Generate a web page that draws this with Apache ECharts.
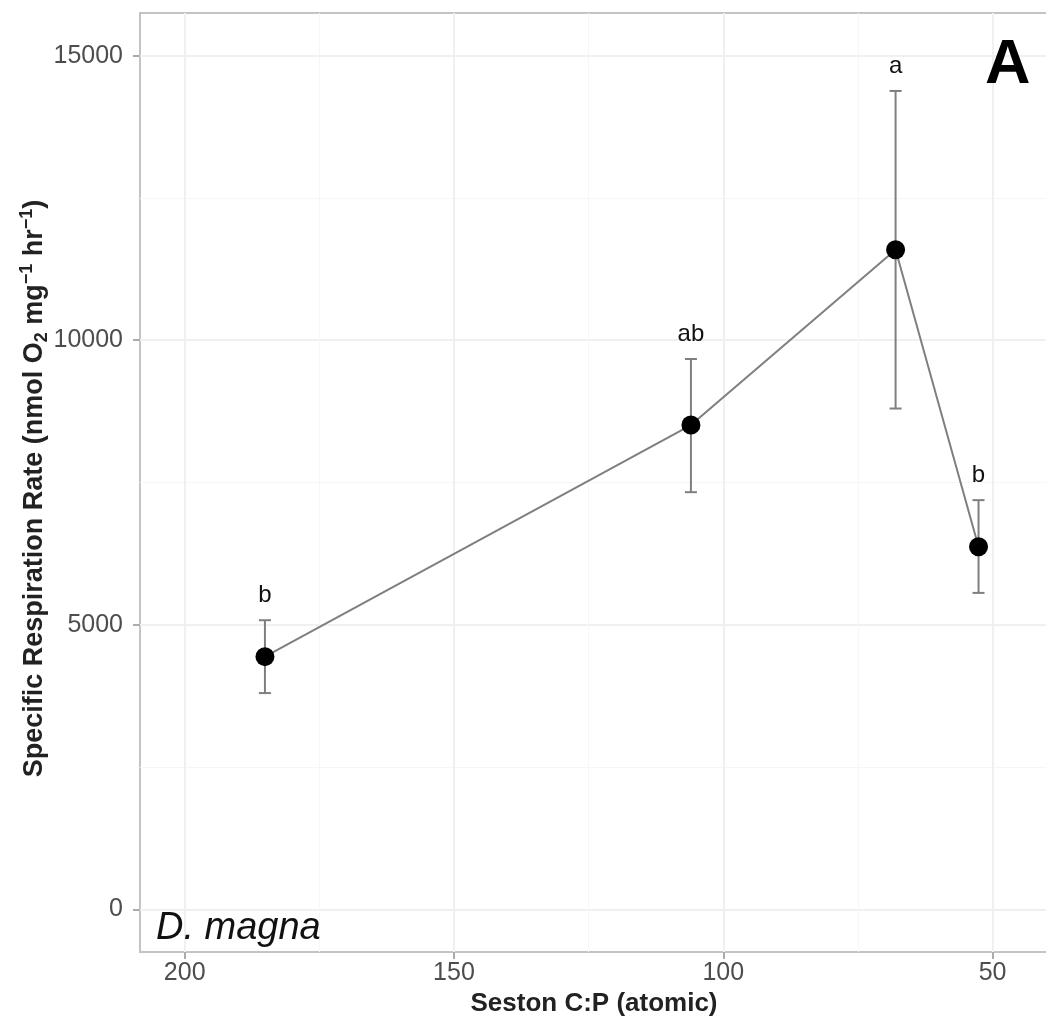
<!DOCTYPE html>
<html>
<head>
<meta charset="utf-8">
<title>Specific respiration rate vs seston C:P</title>
<script src="https://cdn.jsdelivr.net/npm/echarts@6/dist/echarts.min.js"></script>
<style>
  html, body { margin: 0; padding: 0; background: #fff; }
  #chart { width: 1046px; height: 1020px; }
</style>
</head>
<body>
<div id="chart"></div>
<script>
// values
const cpRatio = [185.1, 106.0, 68.0, 52.6]
const respRate = [4440, 8510, 11590, 6370]
const errLow = [3800, 7330, 8800, 5560]
const errHigh = [5080, 9670, 14380, 7190]
const sigLetters = ['b', 'ab', 'a', 'b']

const xTicks = [200, 150, 100, 50]
const xMinorTicks = [175, 125, 75]
const yTicks = [0, 5000, 10000, 15000]
const yMinorTicks = [2500, 7500, 12500]

const FONT = 'Liberation Sans, Arial, Helvetica, sans-serif'
const GREY_LINE = '#7f7f7f'

const points = cpRatio.map((x, i) => [x, respRate[i]])
const bars = cpRatio.map((x, i) => [x, respRate[i], errLow[i], errHigh[i]])

function renderErrorBar(params, api) {
  const x = api.value(0)
  const top = api.coord([x, api.value(3)])
  const bot = api.coord([x, api.value(2)])
  const half = 6
  const style = { stroke: GREY_LINE, lineWidth: 2 }
  return {
    type: 'group',
    children: [
      { type: 'line', shape: { x1: top[0], y1: top[1], x2: bot[0], y2: bot[1] }, style },
      { type: 'line', shape: { x1: top[0] - half, y1: top[1], x2: top[0] + half, y2: top[1] }, style },
      { type: 'line', shape: { x1: bot[0] - half, y1: bot[1], x2: bot[0] + half, y2: bot[1] }, style },
      {
        type: 'text',
        style: {
          text: sigLetters[params.dataIndex],
          x: top[0],
          y: top[1] - 13,
          align: 'center',
          verticalAlign: 'bottom',
          fontSize: 24,
          fontFamily: FONT,
          fill: '#111'
        }
      }
    ]
  }
}

const chart = echarts.init(document.getElementById('chart'))

const tickStyle = { show: true, length: 7, lineStyle: { color: '#ababab', width: 2 } }

chart.setOption({
  animation: false,
  textStyle: { fontFamily: FONT },
  grid: {
    left: 140,
    top: 13,
    width: 908,
    height: 939,
    outerBoundsMode: 'none',
    containLabel: false,
    show: true,
    borderColor: '#c4c4c4',
    borderWidth: 2,
    backgroundColor: '#fff'
  },
  xAxis: [
    {
      type: 'value',
      inverse: true,
      min: 39.7,
      max: 208.3,
      axisLine: { show: false, onZero: false },
      axisTick: { ...tickStyle, customValues: xTicks },
      axisLabel: { customValues: xTicks, fontSize: 25, color: '#4d4d4d', margin: 9, fontFamily: FONT },
      splitLine: { show: true, lineStyle: { color: '#f0f0f0', width: 2 } },
      name: 'Seston C:P (atomic)',
      nameLocation: 'middle',
      nameGap: 39,
      nameMoveOverlap: false,
      nameTextStyle: { fontSize: 26, fontWeight: 'bold', color: '#222', fontFamily: FONT }
    },
    {
      type: 'value',
      inverse: true,
      min: 39.7,
      max: 208.3,
      axisLine: { show: false, onZero: false },
      axisTick: { show: false, customValues: xMinorTicks },
      axisLabel: { show: false, customValues: xMinorTicks },
      splitLine: { show: true, lineStyle: { color: '#f6f6f6', width: 1 } }
    }
  ],
  yAxis: [
    {
      type: 'value',
      min: -750,
      max: 15750,
      axisLine: { show: false, onZero: false },
      axisTick: { ...tickStyle, customValues: yTicks },
      axisLabel: {
        customValues: yTicks,
        formatter: v => String(v),
        fontSize: 25,
        color: '#4d4d4d',
        margin: 17,
        fontFamily: FONT
      },
      splitLine: { show: true, lineStyle: { color: '#f0f0f0', width: 2 } },
      name: '{b|Specific Respiration Rate (nmol O}{sub|2}{b| mg}{sup|\u22121}{b| hr}{sup|\u22121}{b|)}',
      nameLocation: 'middle',
      nameRotate: 90,
      nameGap: 88,
      nameMoveOverlap: false,
      nameTextStyle: {
        color: '#222',
        padding: [0, 12, 0, 0],
        rich: {
          b: { fontSize: 27, fontWeight: 'bold', fontFamily: FONT, color: '#222' },
          sub: { fontSize: 18, fontWeight: 'bold', fontFamily: FONT, color: '#222', padding: [14, 0, 0, 0] },
          sup: { fontSize: 18, fontWeight: 'bold', fontFamily: FONT, color: '#222', padding: [0, 0, 16, 0] }
        }
      }
    },
    {
      type: 'value',
      min: -750,
      max: 15750,
      axisLine: { show: false, onZero: false },
      axisTick: { show: false, customValues: yMinorTicks },
      axisLabel: { show: false, customValues: yMinorTicks },
      splitLine: { show: true, lineStyle: { color: '#f6f6f6', width: 1 } }
    }
  ],
  graphic: [
    {
      type: 'text',
      x: 985,
      y: 66,
      z: 100,
      style: { text: 'A', fontSize: 63, fontWeight: 'bold', fontFamily: FONT, fill: '#000', verticalAlign: 'middle' }
    },
    {
      type: 'text',
      x: 156,
      y: 928,
      z: 100,
      style: { text: 'D. magna', fontSize: 38, fontStyle: 'italic', fontFamily: FONT, fill: '#111', verticalAlign: 'middle' }
    }
  ],
  series: [
    {
      type: 'line',
      data: points,
      symbol: 'none',
      lineStyle: { color: GREY_LINE, width: 2 },
      z: 2
    },
    {
      type: 'custom',
      data: bars,
      renderItem: renderErrorBar,
      encode: { x: 0, y: [1, 2, 3] },
      z: 3
    },
    {
      type: 'scatter',
      data: points,
      symbol: 'circle',
      symbolSize: 19,
      itemStyle: { color: '#000', opacity: 1 },
      z: 4
    }
  ]
})
</script>
</body>
</html>
